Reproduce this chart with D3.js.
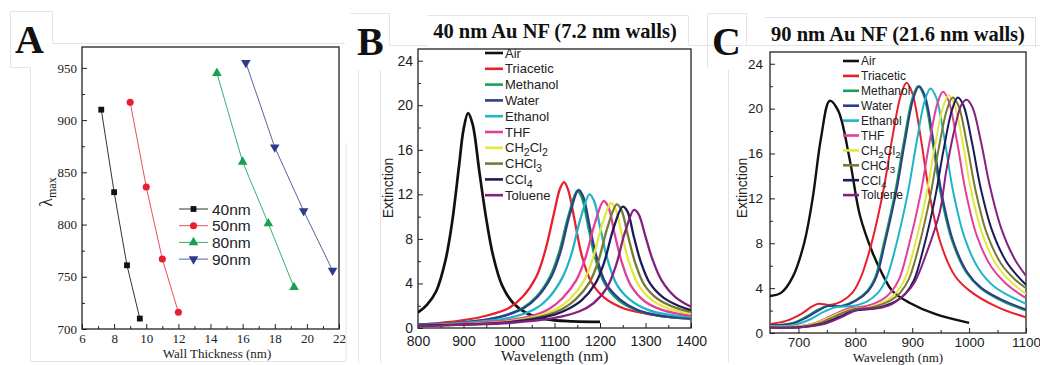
<!DOCTYPE html>
<html>
<head>
<meta charset="utf-8">
<script src="https://cdn.jsdelivr.net/npm/d3@7"></script>
<style>
  body { margin: 0; background: #fff; }
  svg { display: block; }
</style>
</head>
<body>
<div class="container"></div>
<script>
// ---------- panel A : lambda max vs wall thickness ----------
const sizesA = ["40nm", "50nm", "80nm", "90nm"];
const wall40 = [7.2, 8.0, 8.8, 9.6];
const lmax40 = [910, 831, 761, 710];
const wall50 = [9.0, 10.0, 11.0, 12.0];
const lmax50 = [917, 836, 767, 716];
const wall80 = [14.4, 16.0, 17.6, 19.2];
const lmax80 = [945, 860, 801, 740];
const wall90 = [16.2, 18.0, 19.8, 21.6];
const lmax90 = [955, 874, 813, 756];
const ticksAx = [6, 8, 10, 12, 14, 16, 18, 20, 22];
const ticksAy = [700, 750, 800, 850, 900, 950];

// ---------- panels B and C : extinction spectra ----------
const solvents = ["Air", "Triacetic", "Methanol", "Water", "Ethanol", "THF", "CH2Cl2", "CHCl3", "CCl4", "Toluene"];
const solventColors = ["#111111", "#e8202e", "#18a058", "#2c3f8e", "#1fb5c6", "#e0409a", "#e6e640", "#767a34", "#1b1a5a", "#85207e"];

// B: 40 nm Au NF (7.2 nm walls)
const bAir = [[800,1.4],[820,2.1],[840,3.3],[860,6.0],[875,9.5],[890,14.5],[900,17.8],[910,19.3],[920,18.3],[935,14.0],[950,9.8],[965,6.5],[985,3.8],[1010,2.2],[1040,1.3],[1080,0.8],[1140,0.6],[1200,0.55]];
const bTriacetic = [[800,0.3],[850,0.45],[900,0.7],[950,1.1],[1000,1.8],[1030,2.8],[1060,4.6],[1080,7.0],[1100,10.5],[1112,12.5],[1121,13.1],[1130,12.4],[1145,9.5],[1160,6.5],[1180,4.2],[1210,2.7],[1250,1.8],[1300,1.3],[1350,1.0],[1400,0.8]];
const bMethanol = [[800,0.3],[900,0.5],[980,1.0],[1030,1.8],[1060,2.8],[1090,4.6],[1110,6.8],[1130,10.0],[1150,12.3],[1160,11.7],[1175,8.9],[1190,6.2],[1210,4.0],[1240,2.5],[1280,1.6],[1330,1.1],[1400,0.85]];
const bWater = [[800,0.3],[900,0.5],[980,1.0],[1033,1.8],[1063,2.8],[1093,4.6],[1113,6.8],[1133,10.1],[1153,12.4],[1163,11.8],[1178,9.0],[1193,6.3],[1213,4.0],[1243,2.6],[1283,1.6],[1333,1.1],[1400,0.9]];
const bEthanol = [[800,0.25],[900,0.45],[1000,0.9],[1057,1.7],[1087,2.7],[1117,4.5],[1137,6.6],[1157,9.8],[1177,12.0],[1187,11.4],[1202,8.7],[1217,6.1],[1237,3.9],[1267,2.5],[1307,1.6],[1350,1.2],[1400,1.0]];
const bTHF = [[800,0.2],[900,0.4],[1000,0.7],[1060,1.2],[1088,1.7],[1118,2.7],[1148,4.3],[1168,6.3],[1188,9.3],[1208,11.4],[1218,10.9],[1233,8.3],[1248,5.9],[1268,3.8],[1298,2.4],[1338,1.6],[1400,1.1]];
const bCH2Cl2 = [[800,0.2],[900,0.35],[1000,0.6],[1074,1.2],[1104,1.7],[1134,2.6],[1164,4.2],[1184,6.2],[1204,9.2],[1224,11.2],[1234,10.7],[1249,8.2],[1264,5.9],[1284,3.9],[1314,2.5],[1354,1.7],[1400,1.3]];
const bCHCl3 = [[800,0.2],[900,0.35],[1000,0.55],[1087,1.2],[1117,1.7],[1147,2.6],[1177,4.1],[1197,6.1],[1217,9.1],[1237,11.1],[1247,10.6],[1262,8.2],[1277,5.9],[1297,3.9],[1327,2.6],[1367,1.8],[1400,1.45]];
const bCCl4 = [[800,0.2],[900,0.3],[1000,0.5],[1100,1.2],[1130,1.7],[1160,2.5],[1190,4.0],[1210,6.0],[1230,9.0],[1250,10.9],[1260,10.5],[1275,8.1],[1290,5.9],[1310,4.0],[1340,2.7],[1375,1.95],[1400,1.6]];
const bToluene = [[800,0.15],[900,0.3],[1000,0.45],[1100,0.9],[1155,1.5],[1185,2.2],[1215,3.6],[1235,5.6],[1255,8.6],[1275,10.6],[1285,10.2],[1300,8.2],[1315,6.2],[1335,4.3],[1365,2.8],[1400,1.9]];

// C: 90 nm Au NF (21.6 nm walls)
const cAir = [[650,3.3],[670,3.6],[690,5.0],[710,8.0],[725,12.0],[740,17.5],[755,20.7],[770,19.8],[790,15.5],[808,10.5],[830,7.2],[850,5.0],[866,3.7],[895,2.7],[940,1.7],[1000,0.9]];
const cTriacetic = [[650,0.8],[680,1.1],[705,1.7],[722,2.3],[735,2.6],[755,2.5],[775,2.8],[795,3.6],[810,5.0],[830,8.3],[850,12.9],[865,17.4],[880,21.2],[890,22.3],[900,21.4],[915,17.4],[930,12.5],[950,8.0],[975,5.1],[1000,3.8],[1050,2.3],[1100,1.4]];
const cMethanol = [[650,0.7],[690,0.9],[715,1.5],[735,2.1],[750,2.4],[775,2.4],[800,2.9],[820,3.7],[835,5.0],[850,8.0],[870,12.6],[885,17.0],[900,20.9],[910,22.0],[920,21.2],[935,17.2],[950,12.4],[970,8.2],[995,5.4],[1020,4.0],[1060,2.8],[1100,2.0]];
const cWater = [[650,0.7],[690,0.85],[715,1.4],[735,2.0],[752,2.4],[778,2.4],[802,2.9],[822,3.7],[837,5.0],[852,8.0],[872,12.6],[887,17.0],[902,20.9],[912,22.0],[922,21.2],[937,17.2],[952,12.4],[972,8.2],[997,5.4],[1022,4.0],[1060,2.9],[1100,2.1]];
const cEthanol = [[650,0.6],[690,0.7],[720,1.2],[745,1.9],[765,2.3],[795,2.4],[820,2.8],[840,3.6],[855,4.9],[872,7.9],[892,12.4],[907,16.8],[922,20.7],[932,21.8],[942,21.0],[957,17.2],[972,12.6],[992,8.5],[1017,5.7],[1045,4.1],[1100,2.6]];
const cTHF = [[650,0.55],[700,0.6],[730,0.9],[760,1.6],[790,2.2],[820,2.4],[845,2.9],[862,3.6],[877,4.8],[894,7.8],[914,12.2],[929,16.6],[944,20.4],[954,21.5],[964,20.7],[979,17.0],[994,12.6],[1014,8.6],[1039,5.9],[1065,4.4],[1100,3.1]];
const cCH2Cl2 = [[650,0.55],[700,0.6],[730,0.85],[760,1.5],[790,2.1],[825,2.3],[855,2.9],[872,3.6],[887,4.8],[904,7.7],[924,12.1],[939,16.4],[954,20.1],[964,21.2],[974,20.4],[989,16.9],[1004,12.6],[1024,8.7],[1049,6.0],[1075,4.5],[1100,3.5]];
const cCHCl3 = [[650,0.5],[700,0.55],[735,0.85],[765,1.5],[795,2.1],[830,2.3],[862,2.9],[879,3.6],[894,4.8],[911,7.6],[931,12.0],[946,16.3],[961,19.9],[971,21.0],[981,20.3],[996,16.9],[1011,12.8],[1031,8.9],[1056,6.2],[1080,4.8],[1100,4.0]];
const cCCl4 = [[650,0.5],[700,0.5],[740,0.8],[770,1.4],[800,2.0],[835,2.2],[870,2.8],[888,3.5],[903,4.7],[920,7.6],[940,12.0],[955,16.3],[970,19.9],[980,21.0],[990,20.3],[1005,17.0],[1020,13.0],[1040,9.2],[1065,6.4],[1085,5.1],[1100,4.3]];
const cToluene = [[650,0.5],[700,0.5],[745,0.8],[775,1.4],[805,2.1],[840,2.2],[865,2.6],[890,3.6],[905,4.6],[925,7.1],[948,10.7],[960,14.5],[975,18.3],[987,20.4],[996,20.8],[1006,20.1],[1021,17.0],[1036,13.2],[1056,9.4],[1080,6.6],[1100,5.1]];

const seriesB = [bAir, bTriacetic, bMethanol, bWater, bEthanol, bTHF, bCH2Cl2, bCHCl3, bCCl4, bToluene];
const seriesC = [cAir, cTriacetic, cMethanol, cWater, cEthanol, cTHF, cCH2Cl2, cCHCl3, cCCl4, cToluene];
const ticksBx = [800, 900, 1000, 1100, 1200, 1300, 1400];
const ticksCx = [700, 800, 900, 1000, 1100];
const ticksExt = [0, 4, 8, 12, 16, 20, 24];

const width = 1040, height = 365;
const serif = "'Liberation Serif', 'Times New Roman', serif";
const sans = "'Liberation Sans', Arial, sans-serif";

const svg = d3.select(".container").append("svg")
  .attr("width", width)
  .attr("height", height);

svg.append("rect").attr("width", width).attr("height", height).attr("fill", "#fff");

// faint borders left over from the pasted sub-figures
const faint = svg.append("g").attr("fill", "none").attr("stroke", "#e4e4e4").attr("stroke-width", 1);
faint.append("path").attr("d", "M10.5,11.5H52.5V43.5H345 M30.5,67.5V361.5H346V143 M10.5,11.5V67.5H30.5");
faint.append("path").attr("d", "M350.5,13.5H389.5V45.5H427 M358.5,70V363 M380.5,70V363 M427.5,15.5H688.5V45.5H1040");
faint.append("path").attr("d", "M707.5,13.5H746.5V45.5H764 M707.5,13.5V67.5 M728.5,70V363 M764.5,17.5H1035.5V47.5");

// panel letters
[["A", 15, 53], ["B", 357, 55], ["C", 712, 55]].forEach(([t, x, y]) => {
  svg.append("text").attr("x", x).attr("y", y).text(t)
    .attr("font-family", serif).attr("font-weight", "bold").attr("font-size", 40).attr("fill", "#111");
});

// axes with inward ticks, full frame
function frame(x, y, o) {
  const g = svg.append("g");
  const [x0, x1] = x.range();
  const [y0, y1] = y.range();
  const bottom = g.append("g").attr("transform", `translate(0,${y0})`)
    .call(d3.axisBottom(x).tickValues(o.xMajor).tickSize(-5).tickPadding(o.xPad).tickFormat(d3.format("d")));
  g.append("g").attr("transform", `translate(0,${y0})`)
    .call(d3.axisBottom(x).tickValues(o.xMinor).tickSize(-3).tickFormat(""));
  const left = g.append("g").attr("transform", `translate(${x0},0)`)
    .call(d3.axisLeft(y).tickValues(o.yMajor).tickSize(-5).tickPadding(o.yPad).tickFormat(d3.format("d")));
  g.append("g").attr("transform", `translate(${x0},0)`)
    .call(d3.axisLeft(y).tickValues(o.yMinor).tickSize(-3).tickFormat(""));
  g.selectAll(".domain").remove();
  g.selectAll(".tick line").attr("stroke", "#222");
  [bottom, left].forEach(a => a.attr("font-family", o.font).attr("font-size", o.size));
  g.selectAll("text").attr("fill", "#222");
  g.append("rect")
    .attr("x", x0).attr("y", y1).attr("width", x1 - x0).attr("height", y0 - y1)
    .attr("fill", "none").attr("stroke", "#222").attr("stroke-width", 1.3);
}

// ================= panel A =================
const xA = d3.scaleLinear().domain([6, 22]).range([82, 339]);
const yA = d3.scaleLinear().domain([700, 970]).range([329, 47]);
frame(xA, yA, {
  xMajor: ticksAx, xMinor: d3.range(7, 22, 2),
  yMajor: ticksAy, yMinor: [725, 775, 825, 875, 925],
  xPad: 5, yPad: 5, font: serif, size: 13
});

const colorsA = ["#111111", "#e8202e", "#1a9e50", "#2b3c8c"];
const lineColorsA = ["#333333", "#e8505a", "#3aae70", "#5564a0"];
const shapesA = [d3.symbolSquare, d3.symbolCircle, d3.symbolTriangle, d3.symbolTriangle];
const sizesSym = [34, 40, 40, 40];
const rotA = [0, 0, 0, 180];
const dataA = [
  wall40.map((w, i) => [w, lmax40[i]]),
  wall50.map((w, i) => [w, lmax50[i]]),
  wall80.map((w, i) => [w, lmax80[i]]),
  wall90.map((w, i) => [w, lmax90[i]])
];

const lineA = d3.line().x(d => xA(d[0])).y(d => yA(d[1]));
dataA.forEach((pts, k) => {
  svg.append("path").datum(pts)
    .attr("fill", "none").attr("stroke", lineColorsA[k]).attr("stroke-width", 1)
    .attr("d", lineA);
  svg.append("g").selectAll("path").data(pts).join("path")
    .attr("d", d3.symbol(shapesA[k], sizesSym[k]))
    .attr("transform", d => `translate(${xA(d[0])},${yA(d[1])}) rotate(${rotA[k]})`)
    .attr("fill", colorsA[k]);
});

// legend A
sizesA.forEach((name, k) => {
  const ly = 209 + k * 16.7;
  svg.append("line").attr("x1", 179).attr("x2", 208).attr("y1", ly).attr("y2", ly)
    .attr("stroke", lineColorsA[k]).attr("stroke-width", 1);
  svg.append("path").attr("d", d3.symbol(shapesA[k], sizesSym[k])())
    .attr("transform", `translate(193.5,${ly}) rotate(${rotA[k]})`).attr("fill", colorsA[k]);
  svg.append("text").attr("x", 212).attr("y", ly + 5.5).text(name)
    .attr("font-family", sans).attr("font-size", 15.5).attr("fill", "#222");
});

svg.append("text").attr("x", 217).attr("y", 358).attr("text-anchor", "middle")
  .attr("font-family", serif).attr("font-size", 13).attr("fill", "#222")
  .text("Wall Thickness (nm)");
const yLabA = svg.append("text").attr("transform", "translate(52,192) rotate(-90)")
  .attr("text-anchor", "middle").attr("font-family", serif).attr("fill", "#222");
yLabA.append("tspan").attr("font-size", 18).text("λ");
yLabA.append("tspan").attr("font-size", 12).attr("dy", 4).text("max");

// ================= spectra panels =================
function legendLabel(sel, label) {
  // digits become subscripts (CH2Cl2, CHCl3, CCl4)
  let sub = false;
  label.split(/(\d)/).filter(s => s).forEach(part => {
    const isNum = /\d/.test(part);
    const t = sel.append("tspan").text(part);
    if (isNum && !sub) t.attr("dy", 3.5).attr("font-size", "0.82em");
    else if (isNum) t.attr("font-size", "0.82em");
    else if (sub) t.attr("dy", -3.5);
    sub = isNum;
  });
}

function spectra(o) {
  const x = d3.scaleLinear().domain(o.xDomain).range(o.xRange);
  const y = d3.scaleLinear().domain([0, 25.05]).range(o.yRange);
  frame(x, y, {
    xMajor: o.xMajor, xMinor: o.xMinor,
    yMajor: ticksExt, yMinor: [2, 6, 10, 14, 18, 22],
    xPad: o.xPad, yPad: o.yPad, font: sans, size: o.tickSize
  });

  const clipId = "clip" + o.id;
  svg.append("clipPath").attr("id", clipId).append("rect")
    .attr("x", o.xRange[0]).attr("y", o.yRange[1])
    .attr("width", o.xRange[1] - o.xRange[0]).attr("height", o.yRange[0] - o.yRange[1]);

  const line = d3.line().x(d => x(d[0])).y(d => y(d[1])).curve(d3.curveCatmullRom.alpha(0.5));
  const g = svg.append("g").attr("clip-path", `url(#${clipId})`);
  o.series.forEach((pts, k) => {
    g.append("path").datum(pts)
      .attr("fill", "none").attr("stroke", solventColors[k])
      .attr("stroke-width", k === 0 ? o.lw + 0.4 : o.lw)
      .attr("stroke-linejoin", "round")
      .attr("d", line);
  });

  // legend
  solvents.forEach((name, k) => {
    const ly = o.legY + k * o.legStep;
    svg.append("line").attr("x1", o.legX).attr("x2", o.legX + o.legLen).attr("y1", ly).attr("y2", ly)
      .attr("stroke", solventColors[k]).attr("stroke-width", 2.6);
    const t = svg.append("text").attr("x", o.legX + o.legLen + 2).attr("y", ly + o.legSize * 0.36)
      .attr("font-family", sans).attr("font-size", o.legSize).attr("fill", "#222");
    legendLabel(t, name);
  });

  svg.append("text").attr("x", o.titleX).attr("y", o.titleY).attr("text-anchor", "middle")
    .attr("font-family", serif).attr("font-weight", "bold").attr("font-size", o.titleSize).attr("fill", "#111")
    .text(o.title);
  svg.append("text").attr("x", (o.xRange[0] + o.xRange[1]) / 2).attr("y", o.xLabY).attr("text-anchor", "middle")
    .attr("font-family", serif).attr("font-size", o.xLabSize).attr("fill", "#222")
    .text("Wavelength (nm)");
  svg.append("text").attr("transform", `translate(${o.yLabX},188) rotate(-90)`).attr("text-anchor", "middle")
    .attr("font-family", sans).attr("font-size", 14).attr("fill", "#222")
    .text("Extinction");
}

spectra({
  id: "B", series: seriesB,
  xDomain: [800, 1400], xRange: [418, 691], yRange: [328, 49],
  xMajor: ticksBx, xMinor: [850, 950, 1050, 1150, 1250, 1350],
  xPad: 8, yPad: 5, lw: 2.3, tickSize: 14,
  legX: 485, legLen: 18, legY: 53, legStep: 15.8, legSize: 13,
  title: "40 nm Au NF (7.2 nm walls)", titleX: 555, titleY: 38, titleSize: 20.5,
  xLabSize: 15.5, xLabY: 361, yLabX: 393
});

spectra({
  id: "C", series: seriesC,
  xDomain: [650, 1100], xRange: [770, 1026], yRange: [333, 52],
  xMajor: ticksCx, xMinor: [750, 850, 950, 1050],
  xPad: 4, yPad: 7, lw: 2, tickSize: 13.5,
  legX: 843, legLen: 16, legY: 61, legStep: 14.9, legSize: 12,
  title: "90 nm Au NF (21.6 nm walls)", titleX: 898, titleY: 41, titleSize: 20.5,
  xLabSize: 13, xLabY: 362, yLabX: 747
});
</script>
</body>
</html>
